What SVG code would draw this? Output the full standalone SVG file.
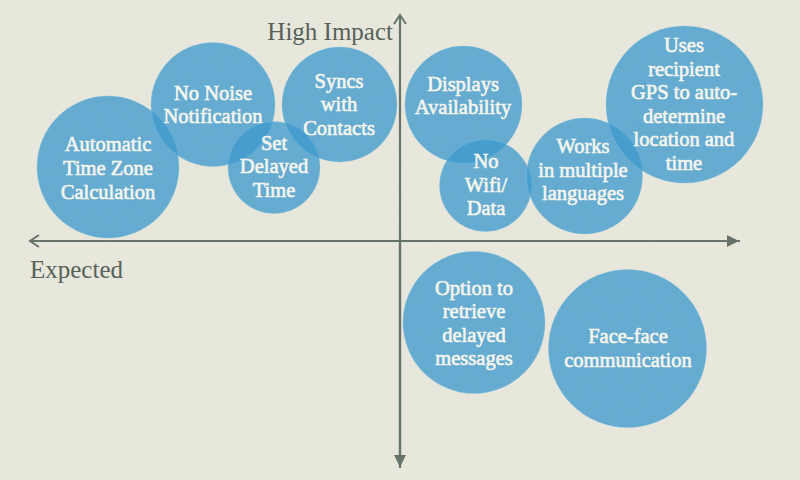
<svg xmlns="http://www.w3.org/2000/svg" width="800" height="480" viewBox="0 0 800 480">
  <defs>
    <style>
      .bubble circle { fill: #3f9acd; fill-opacity: 0.77; stroke: #82c0df; stroke-opacity: 0.35; stroke-width: 1; }
      .bubble text { fill: #f6f6ee; stroke: #f6f6ee; stroke-width: 0.6; font-family: "Liberation Serif", "Times New Roman", serif; font-size: 20.5px; text-anchor: middle; }
      .axis { stroke: #67736a; stroke-width: 2.2; fill: none; }
      .axis-label { fill: #57625b; font-family: "Liberation Serif", "Times New Roman", serif; font-size: 25px; }
    </style>
    <marker id="open-head" viewBox="0 0 12 14" refX="10" refY="7" markerWidth="12" markerHeight="14" markerUnits="userSpaceOnUse" orient="auto">
      <path d="M1,1 L10,7 L1,13" fill="none" stroke="#67736a" stroke-width="2"/>
    </marker>
    <marker id="solid-head" viewBox="0 0 12 14" refX="11" refY="7" markerWidth="12" markerHeight="14" markerUnits="userSpaceOnUse" orient="auto">
      <path d="M0,1 L12,7 L0,13 Z" fill="#67736a"/>
    </marker>
    <filter id="canvas" x="0" y="0" width="100%" height="100%">
      <feTurbulence type="fractalNoise" baseFrequency="0.9" numOctaves="2" seed="3" result="n"/>
      <feColorMatrix in="n" type="matrix" values="0 0 0 0 0.5  0 0 0 0 0.5  0 0 0 0 0.45  0 0 0 0.1 0"/>
    </filter>
  </defs>

  <!-- paper background -->
  <rect width="800" height="480" fill="#e9e9de"/>
  <rect width="800" height="480" filter="url(#canvas)"/>

  <!-- axes -->
  <g id="connectors">
    <line class="axis" x1="400" y1="468" x2="400" y2="15" marker-end="url(#open-head)"/>
    <line class="axis" x1="400" y1="241" x2="400" y2="466" marker-end="url(#solid-head)"/>
    <line class="axis" x1="740" y1="241" x2="30" y2="241" marker-end="url(#open-head)"/>
    <line class="axis" x1="400" y1="241" x2="738" y2="241" marker-end="url(#solid-head)"/>
  </g>

  <text class="axis-label" x="393" y="40" text-anchor="end">High Impact</text>
  <text class="axis-label" x="30" y="278">Expected</text>

  <g id="automatic-time-zone" class="bubble">
    <circle cx="108" cy="167" r="71"/>
    <text x="108" y="151">Automatic</text>
    <text x="108" y="175">Time Zone</text>
    <text x="108" y="199">Calculation</text>
  </g>

  <g id="no-noise" class="bubble">
    <circle cx="213" cy="104.5" r="62"/>
    <text x="213" y="100">No Noise</text>
    <text x="213" y="123">Notification</text>
  </g>

  <g id="set-delayed" class="bubble">
    <circle cx="274" cy="167.5" r="46"/>
    <text x="274" y="150">Set</text>
    <text x="274" y="173">Delayed</text>
    <text x="274" y="197">Time</text>
  </g>

  <g id="syncs-contacts" class="bubble">
    <circle cx="339.5" cy="104.5" r="57.5"/>
    <text x="339" y="88">Syncs</text>
    <text x="339" y="111">with</text>
    <text x="339" y="135">Contacts</text>
  </g>

  <g id="displays-availability" class="bubble">
    <circle cx="463.5" cy="104.5" r="58.5"/>
    <text x="463" y="91">Displays</text>
    <text x="463" y="114">Availability</text>
  </g>

  <g id="no-wifi" class="bubble">
    <circle cx="485.5" cy="185.5" r="46"/>
    <text x="486" y="168">No</text>
    <text x="486" y="192">Wifi/</text>
    <text x="486" y="215">Data</text>
  </g>

  <g id="multiple-languages" class="bubble">
    <circle cx="584.5" cy="176" r="58"/>
    <text x="583" y="153">Works</text>
    <text x="583" y="177">in multiple</text>
    <text x="583" y="200">languages</text>
  </g>

  <g id="recipient-gps" class="bubble">
    <circle cx="684.5" cy="104.5" r="78.5"/>
    <text x="684" y="52">Uses</text>
    <text x="684" y="75.5">recipient</text>
    <text x="684" y="99">GPS to auto-</text>
    <text x="684" y="122.5">determine</text>
    <text x="684" y="146">location and</text>
    <text x="684" y="169.5">time</text>
  </g>

  <g id="retrieve-delayed" class="bubble">
    <circle cx="474" cy="322.5" r="71"/>
    <text x="474" y="295">Option to</text>
    <text x="474" y="318">retrieve</text>
    <text x="474" y="342">delayed</text>
    <text x="474" y="365">messages</text>
  </g>

  <g id="face-face" class="bubble">
    <circle cx="627.5" cy="348.5" r="79"/>
    <text x="628" y="343">Face-face</text>
    <text x="628" y="367">communication</text>
  </g>
</svg>
